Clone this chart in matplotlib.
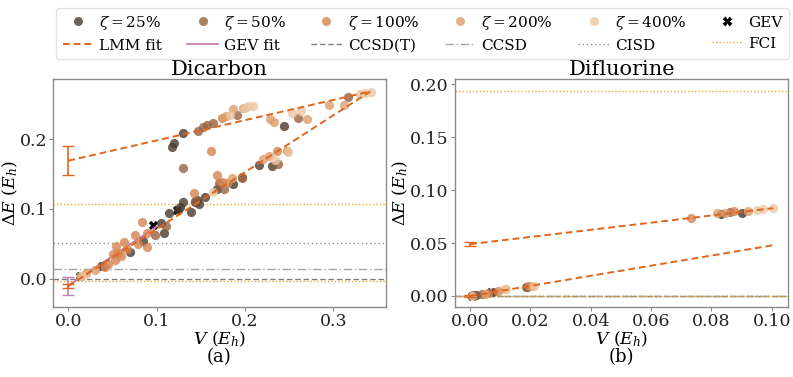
import matplotlib
matplotlib.use("Agg")
import matplotlib.pyplot as plt
from matplotlib.lines import Line2D

plt.rcParams['font.family'] = ['DejaVu Serif']
plt.rcParams['mathtext.fontset'] = 'dejavuserif'

zeta_labels = [r"$\zeta = 25\%$", r"$\zeta = 50\%$", r"$\zeta = 100\%$", r"$\zeta = 200\%$", r"$\zeta = 400\%$"]
zeta_colors = ["#4a3a2e", "#946341", "#d6844f", "#df9e6c", "#ebc6a2"]

# ---------------- Dicarbon ----------------
c2_V = [
    [0.117, 0.120, 0.130, 0.2446, 0.070, 0.085, 0.105, 0.1087, 0.114, 0.1265, 0.1302, 0.1386, 0.148, 0.1435, 0.1548, 0.168, 0.1869, 0.2163, 0.231, 0.1454, 0.1245],
    [0.130, 0.1465, 0.153, 0.1575, 0.1635, 0.2605, 0.1907, 0.197, 0.1707, 0.1767, 0.1963, 0.2378, 0.0982, 0.111, 0.1435, 0.3164, 0.038],
    [0.1616, 0.168, 0.1427, 0.1737, 0.1794, 0.2367, 0.0416, 0.045, 0.0529, 0.0537, 0.051, 0.063, 0.066, 0.0755, 0.0786, 0.0838, 0.0888, 0.0888, 0.1735, 0.0566, 0.060, 0.2475],
    [0.1786, 0.187, 0.2284, 0.2333, 0.2952, 0.3126, 0.2277, 0.185, 0.2209, 0.020, 0.0133, 0.030, 0.198, 0.270],
    [0.183, 0.2038, 0.2095, 0.2537, 0.2635, 0.3303, 0.336, 0.3424, 0.234, 0.2485, 0.1642, 0.2005, 0.015],
]
c2_dE = [
    [0.189, 0.195, 0.208, 0.219, 0.039, 0.0547, 0.080, 0.065, 0.0938, 0.1024, 0.110, 0.096, 0.107, 0.1105, 0.1176, 0.128, 0.1357, 0.163, 0.162, 0.113, 0.098],
    [0.158, 0.212, 0.2176, 0.220, 0.2224, 0.2305, 0.234, 0.1448, 0.1367, 0.128, 0.146, 0.165, 0.0629, 0.0757, 0.112, 0.2595, 0.019],
    [0.1833, 0.1486, 0.1233, 0.139, 0.1367, 0.1829, 0.0176, 0.021, 0.027, 0.047, 0.0357, 0.0524, 0.0424, 0.0629, 0.050, 0.0819, 0.046, 0.066, 0.2305, 0.0367, 0.033, 0.183],
    [0.2329, 0.2424, 0.228, 0.2238, 0.2486, 0.2486, 0.1757, 0.144, 0.171, 0.008, 0.0043, 0.013, 0.2438, 0.228],
    [0.235, 0.247, 0.247, 0.2367, 0.240, 0.2643, 0.2652, 0.2676, 0.170, 0.1819, 0.1248, 0.245, 0.004],
]
c2_gev_V = [0.0133, 0.0378, 0.0963, 0.1234]
c2_gev_dE = [0.0043, 0.019, 0.077, 0.0986]
c2_fit_V = [0.0, 0.342]
c2_fit_upper = [0.169, 0.268]
c2_fit_lower = [-0.010, 0.268]
c2_fit_err = [0.021, 0.003]
c2_gevfit_V = [0.0, 0.10]
c2_gevfit_dE = [-0.0095, 0.075]
c2_gevfit_err = 0.013
c2_ref = {"CCSD(T)": 0.0, "CCSD": 0.0138, "CISD": 0.051, "FCI": [0.107, -0.003]}

# ---------------- Difluorine ----------------
f2_V = [
    [0.0833, 0.0902, 0.002, 0.019],
    [0.0861, 0.0039, 0.0185, 0.001, 0.0076],
    [0.0732, 0.0876, 0.006, 0.0094, 0.0195],
    [0.082, 0.0844, 0.0922, 0.0117, 0.0205, 0.005],
    [0.0952, 0.0972, 0.1005, 0.0212, 0.012, 0.0005],
]
f2_dE = [
    [0.077, 0.0786, 0.001, 0.0086],
    [0.079, 0.002, 0.0085, 0.0005, 0.004],
    [0.0733, 0.080, 0.0025, 0.005, 0.009],
    [0.078, 0.0786, 0.080, 0.0063, 0.0093, 0.002],
    [0.0811, 0.0821, 0.0833, 0.0098, 0.0065, 0.0],
]
f2_gev_V = [0.0005, 0.007]
f2_gev_dE = [0.0, 0.004]
f2_fit_V = [0.0, 0.1005]
f2_fit_upper = [0.049, 0.083]
f2_fit_lower = [0.0, 0.048]
f2_fit_err = [0.002, 0.0005]
f2_ref = {"CCSD(T)": 0.0, "CCSD": 0.0, "CISD": 0.0, "FCI": [0.1935, 0.0]}

lmm_color = "#e0661c"
gev_color = "#c77fae"
fci_color = "#f2a626"
spine_color = "#8a8a8a"

fig = plt.figure(figsize=(7.93, 3.77), dpi=100)
axL = fig.add_axes([0.0672, 0.1865, 0.4192, 0.6031])
axR = fig.add_axes([0.5738, 0.1865, 0.4203, 0.6031])


def draw(ax, Vs, dEs, gV, gdE, fitV, fup, flo, ferr, ref, ylab_x, gevfit=None):
    ax.axhline(ref["CCSD(T)"], color="#7f7f7f", ls=(0, (4, 2)), lw=1.0, zorder=1)
    ax.axhline(ref["CCSD"], color="#a3a3a3", ls=(0, (6, 2, 1, 2)), lw=1.0, zorder=1)
    ax.axhline(ref["CISD"], color="#8f8f8f", ls=(0, (1, 2)), lw=1.0, zorder=1)
    for y in ref["FCI"]:
        ax.axhline(y, color=fci_color, ls=(0, (1, 1.5)), lw=1.0, zorder=1)
    ax.scatter(gV, gdE, marker="X", color="black", s=45, zorder=2, linewidths=0)
    if gevfit is not None:
        gx, gy, ge = gevfit
        ax.plot(gx, gy, color=gev_color, lw=1.3, zorder=2)
        ax.errorbar([gx[0]], [gy[0]], yerr=[ge], color=gev_color, capsize=4, lw=1.2, zorder=2)
    for V, dE, c in zip(Vs, dEs, zeta_colors):
        ax.scatter(V, dE, s=44, color=c, alpha=0.8, linewidths=0, zorder=3)
    ax.plot(fitV, fup, color=lmm_color, ls=(0, (3.5, 2)), lw=1.4, zorder=4)
    ax.plot(fitV, flo, color=lmm_color, ls=(0, (3.5, 2)), lw=1.4, zorder=4)
    ax.errorbar([fitV[0], fitV[0]], [fup[0], flo[0]], yerr=ferr, fmt="none",
                ecolor=lmm_color, capsize=4, lw=1.2, zorder=4)
    for s in ax.spines.values():
        s.set_color(spine_color)
        s.set_linewidth(1.0)
    ax.tick_params(colors=spine_color, labelcolor="#222222", labelsize=12.5, length=3, pad=1.5)
    ax.set_xlabel("$V\\ (E_h)$", fontsize=12.5)
    ax.xaxis.set_label_coords(0.5, -0.145)
    ax.xaxis.label.set_verticalalignment("center")
    ax.set_ylabel("$\\Delta E\\ (E_h)$", fontsize=12.5)
    ax.yaxis.set_label_coords(ylab_x, 0.5)
    ax.yaxis.label.set_verticalalignment("center")


draw(axL, c2_V, c2_dE, c2_gev_V, c2_gev_dE, c2_fit_V, c2_fit_upper, c2_fit_lower, c2_fit_err,
     c2_ref, -0.128, gevfit=(c2_gevfit_V, c2_gevfit_dE, c2_gevfit_err))
draw(axR, f2_V, f2_dE, f2_gev_V, f2_gev_dE, f2_fit_V, f2_fit_upper, f2_fit_lower, f2_fit_err,
     f2_ref, -0.165)

axL.set_xlim(-0.017, 0.3594)
axL.set_ylim(-0.0396, 0.2853)
axL.set_xticks([0.0, 0.1, 0.2, 0.3])
axL.set_yticks([0.0, 0.1, 0.2])
axL.set_title("Dicarbon", fontsize=15, pad=3)

axR.set_xlim(-0.005, 0.1055)
axR.set_ylim(-0.0101, 0.2047)
axR.set_xticks([0.0, 0.02, 0.04, 0.06, 0.08, 0.10])
axR.set_xticklabels(["0.00", "0.02", "0.04", "0.06", "0.08", "0.10"])
axR.set_yticks([0.0, 0.05, 0.10, 0.15, 0.20])
axR.set_yticklabels(["0.00", "0.05", "0.10", "0.15", "0.20"])
axR.set_title("Difluorine", fontsize=15, pad=3)

fig.text(0.2765, 0.053, "(a)", ha="center", va="center", fontsize=13)
fig.text(0.7835, 0.053, "(b)", ha="center", va="center", fontsize=13)

handles = [Line2D([], [], ls="none", marker="o", ms=6.5, color=c, alpha=0.8, mec="none") for c in zeta_colors]
handles.append(Line2D([], [], ls="none", marker="X", ms=7, color="black", mec="none"))
handles += [
    Line2D([], [], color=lmm_color, ls=(0, (3.5, 2)), lw=1.4),
    Line2D([], [], color=gev_color, lw=1.3),
    Line2D([], [], color="#7f7f7f", ls=(0, (4, 2)), lw=1.0),
    Line2D([], [], color="#a3a3a3", ls=(0, (6, 2, 1, 2)), lw=1.0),
    Line2D([], [], color="#8f8f8f", ls=(0, (1, 2)), lw=1.0),
    Line2D([], [], color=fci_color, ls=(0, (1, 1.5)), lw=1.0),
]
labels = zeta_labels + ["GEV", "LMM fit", "GEV fit", "CCSD(T)", "CCSD", "CISD", "FCI"]
order = [0, 6, 1, 7, 2, 8, 3, 9, 4, 10, 5, 11]
fig.legend([handles[i] for i in order], [labels[i] for i in order], ncol=6,
           loc="upper center", bbox_to_anchor=(0.533, 1.0), fontsize=11,
           frameon=True, edgecolor="#dddddd", handlelength=2.0, columnspacing=1.65,
           borderpad=0.4, labelspacing=0.45, handletextpad=0.4)

fig.savefig("out.png", dpi=100)
